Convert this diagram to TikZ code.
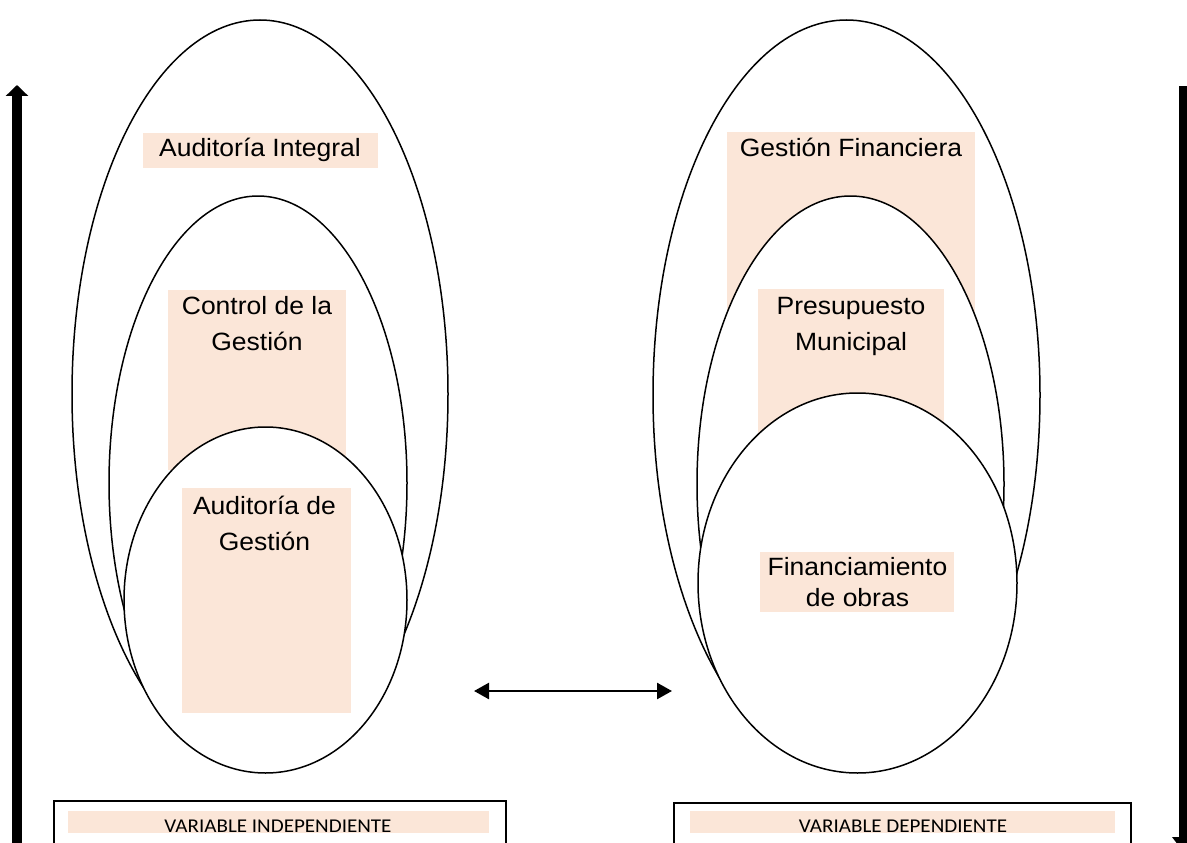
\documentclass[tikz,border=0pt]{standalone}
\usepackage{fontspec}
\setmainfont{Liberation Sans}[FakeStretch=1.06]
\newfontfamily\varfont{Carlito}[FakeStretch=1.08]
\usetikzlibrary{positioning,arrows.meta,shapes.geometric}
\definecolor{peach}{HTML}{FBE6D8}

\begin{document}
\begin{tikzpicture}[
  x=1pt, y=-1pt,
  oval/.style={ellipse, draw, fill=white, line width=1.5pt, inner sep=0pt},
  shade/.style={fill=peach, inner sep=0pt},
  label/.style={font=\fontsize{25}{36}\selectfont, align=center, inner sep=0pt, anchor=base},
  varbox/.style={draw, line width=1.6pt, inner sep=0pt},
  vartext/.style={font=\varfont\fontsize{19.5}{22}\selectfont, inner sep=0pt, anchor=base},
  ]
  \useasboundingbox (0,0) rectangle (1187,843);

  % left side
  \node [oval, minimum width=376pt, minimum height=748pt] (int-oval) at (260,394) {};
  \node [shade, minimum width=235pt, minimum height=35pt] (int-shade) at (260.5,150.5) {};
  \node [oval, minimum width=298pt, minimum height=574pt] (ctl-oval) at (258,483) {};
  \node [shade, minimum width=178pt, minimum height=180pt] (ctl-shade) at (257,380) {};
  \node [oval, minimum width=283pt, minimum height=346pt] (aud-oval) at (265.5,600) {};
  \node [shade, minimum width=169pt, minimum height=225pt] (aud-shade) at (266.5,600.5) {};
  \node [label] (int-text) at (260,157) {Auditoría Integral};
  \node [label] (ctl-text) at (257,350) {Control de la\\Gestión};
  \node [label] (aud-text) at (264.5,550) {Auditoría de\\Gestión};

  % right side
  \node [oval, minimum width=387pt, minimum height=750pt] (fin-oval) at (846.5,395) {};
  \node [shade, minimum width=248pt, minimum height=198pt] (fin-shade) at (851,231) {};
  \node [oval, minimum width=307pt, minimum height=576pt] (pre-oval) at (850.5,484) {};
  \node [shade, minimum width=186pt, minimum height=156pt] (pre-shade) at (851,367) {};
  \node [oval, minimum width=319pt, minimum height=380pt] (obr-oval) at (857.5,583) {};
  \node [shade, minimum width=194pt, minimum height=60pt] (obr-shade) at (857,582) {};
  \node [label] (fin-text) at (851,157) {Gestión Financiera};
  \node [label] (pre-text) at (851,350) {Presupuesto\\Municipal};
  \node [label] (obr-text) at (857.5,606) {Financiamiento\\[-5pt]de obras};

  % link between both sides
  \coordinate (link-l) at (474,691);
  \coordinate (link-r) at (672,691);
  \draw [line width=2.5pt, {Triangle[length=15pt,width=16pt]}-{Triangle[length=15pt,width=16pt]}] (link-l) -- (link-r);

  % side arrows
  \coordinate (up-foot) at (17,860);
  \coordinate (up-tip) at (17,85);
  \draw [line width=10pt, -{Triangle[length=11pt,width=22pt]}] (up-foot) -- (up-tip);
  \coordinate (down-top) at (1183.5,86);
  \coordinate (down-tip) at (1183.5,852);
  \draw [line width=8.5pt, -{Triangle[length=15pt,width=22pt]}] (down-top) -- (down-tip);

  % variable boxes
  \node [varbox, minimum width=452pt, minimum height=80pt, anchor=north west] (ind-box) at (53,800) {};
  \node [shade, minimum width=421pt, minimum height=22pt] (ind-shade) at (278.5,822) {};
  \node [vartext] (ind-text) at (278,832) {VARIABLE INDEPENDIENTE};
  \node [varbox, minimum width=457pt, minimum height=80pt, anchor=north west] (dep-box) at (673,802) {};
  \node [shade, minimum width=425pt, minimum height=22pt] (dep-shade) at (902.5,822) {};
  \node [vartext] (dep-text) at (903,832) {VARIABLE DEPENDIENTE};
\end{tikzpicture}
\end{document}
